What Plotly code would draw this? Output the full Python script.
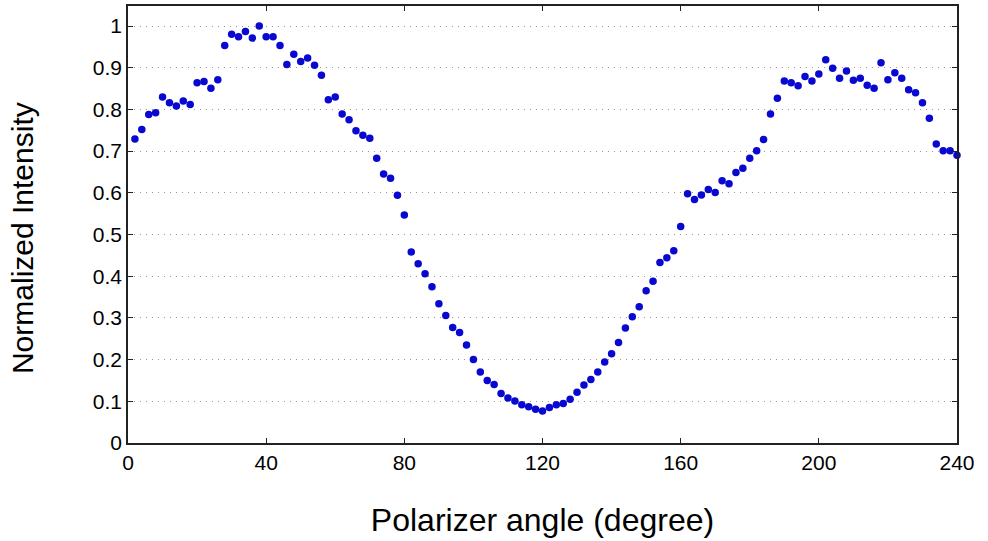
import plotly.graph_objects as go

angle_deg = [2, 4, 6, 8, 10, 12, 14, 16, 18, 20, 22, 24, 26, 28, 30, 32, 34, 36, 38, 40,
             42, 44, 46, 48, 50, 52, 54, 56, 58, 60, 62, 64, 66, 68, 70, 72, 74, 76, 78, 80,
             82, 84, 86, 88, 90, 92, 94, 96, 98, 100, 102, 104, 106, 108, 110, 112, 114, 116, 118, 120,
             122, 124, 126, 128, 130, 132, 134, 136, 138, 140, 142, 144, 146, 148, 150, 152, 154, 156, 158, 160,
             162, 164, 166, 168, 170, 172, 174, 176, 178, 180, 182, 184, 186, 188, 190, 192, 194, 196, 198, 200,
             202, 204, 206, 208, 210, 212, 214, 216, 218, 220, 222, 224, 226, 228, 230, 232, 234, 236, 238, 240]

intensity = [0.729, 0.752, 0.788, 0.792, 0.830, 0.816, 0.808, 0.820, 0.812, 0.864,
             0.867, 0.851, 0.871, 0.953, 0.980, 0.974, 0.987, 0.971, 1.000, 0.974,
             0.974, 0.953, 0.908, 0.932, 0.915, 0.923, 0.906, 0.882, 0.823, 0.830,
             0.789, 0.775, 0.749, 0.738, 0.731, 0.683, 0.645, 0.635, 0.594, 0.547,
             0.458, 0.430, 0.406, 0.375, 0.334, 0.306, 0.277, 0.265, 0.235, 0.200,
             0.170, 0.150, 0.140, 0.119, 0.108, 0.101, 0.092, 0.087, 0.081, 0.077,
             0.085, 0.092, 0.095, 0.105, 0.122, 0.139, 0.152, 0.170, 0.194, 0.214,
             0.241, 0.276, 0.303, 0.327, 0.365, 0.388, 0.433, 0.444, 0.461, 0.519,
             0.598, 0.584, 0.595, 0.608, 0.601, 0.629, 0.622, 0.649, 0.659, 0.683,
             0.701, 0.728, 0.789, 0.827, 0.868, 0.864, 0.857, 0.879, 0.868, 0.885,
             0.919, 0.899, 0.875, 0.892, 0.870, 0.875, 0.858, 0.851, 0.912, 0.871,
             0.888, 0.875, 0.847, 0.840, 0.816, 0.779, 0.717, 0.701, 0.701, 0.690]

x_ticks = [0, 40, 80, 120, 160, 200, 240]
y_ticks = [0, 0.1, 0.2, 0.3, 0.4, 0.5, 0.6, 0.7, 0.8, 0.9, 1]
y_tick_labels = ["0", "0.1", "0.2", "0.3", "0.4", "0.5", "0.6", "0.7", "0.8", "0.9", "1"]

fig = go.Figure()
fig.add_trace(go.Scatter(
    x=angle_deg, y=intensity, mode="markers",
    marker=dict(color="#0808d0", size=7.5, line=dict(width=0)),
    showlegend=False, cliponaxis=False,
))

font_family = "Liberation Sans, Arial, sans-serif"
fig.update_layout(
    width=988, height=541,
    margin=dict(l=128, r=31, t=4, b=98, pad=0),
    paper_bgcolor="white", plot_bgcolor="white",
    font=dict(family=font_family, color="#000000"),
    xaxis=dict(
        range=[0, 240], tickvals=x_ticks, ticktext=[str(v) for v in x_ticks],
        ticks="inside", ticklen=5, tickwidth=1, tickcolor="#222",
        showline=True, linecolor="#222", linewidth=1.5, mirror="ticks",
        showgrid=False, zeroline=False,
        tickfont=dict(size=21),
        title=dict(text="Polarizer angle (degree)", font=dict(size=32), standoff=36),
    ),
    yaxis=dict(
        range=[0, 1.048], tickvals=y_ticks, ticktext=y_tick_labels,
        ticks="inside", ticklen=5, tickwidth=1, tickcolor="#222",
        showline=True, linecolor="#222", linewidth=1.5, mirror="ticks",
        showgrid=True, gridcolor="#999999", gridwidth=1, griddash="1px,5px",
        zeroline=False,
        tickfont=dict(size=21),
    ),
    annotations=[dict(
        text="Normalized Intensity", textangle=-90, showarrow=False,
        xref="paper", yref="paper", x=0, y=0.469, xanchor="center", yanchor="middle",
        xshift=-106, font=dict(size=30, family=font_family, color="#000000"),
    )],
)

fig.write_html("out.html")
